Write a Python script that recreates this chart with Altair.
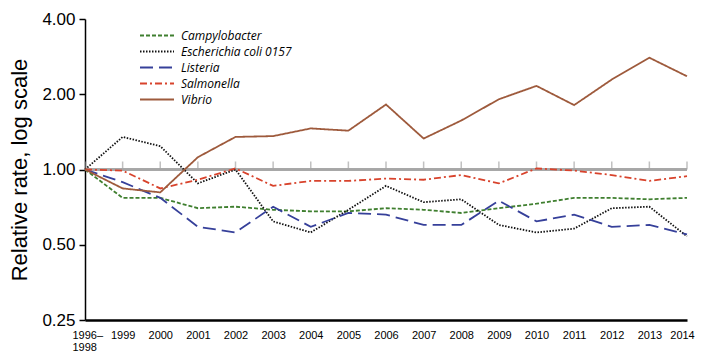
import altair as alt
import pandas as pd

periods = ["1996–1998", "1999", "2000", "2001", "2002", "2003", "2004", "2005",
           "2006", "2007", "2008", "2009", "2010", "2011", "2012", "2013", "2014"]

campylobacter = [1.00, 0.77, 0.77, 0.70, 0.71, 0.69, 0.68, 0.68, 0.70, 0.69,
                 0.67, 0.70, 0.73, 0.77, 0.77, 0.76, 0.77]
ecoli = [1.00, 1.35, 1.24, 0.88, 1.00, 0.62, 0.56, 0.69, 0.86, 0.74,
         0.76, 0.60, 0.56, 0.58, 0.70, 0.71, 0.54]
listeria = [1.00, 0.89, 0.77, 0.59, 0.56, 0.71, 0.59, 0.67, 0.66, 0.60,
            0.60, 0.75, 0.62, 0.66, 0.59, 0.60, 0.55]
salmonella = [1.00, 0.99, 0.84, 0.91, 1.01, 0.86, 0.90, 0.90, 0.92, 0.91,
              0.95, 0.88, 1.01, 0.99, 0.95, 0.90, 0.94]
vibrio = [1.00, 0.84, 0.81, 1.12, 1.35, 1.36, 1.46, 1.43, 1.82, 1.33,
          1.57, 1.91, 2.16, 1.81, 2.29, 2.80, 2.36]

series_names = ["Campylobacter", "Escherichia coli 0157", "Listeria", "Salmonella", "Vibrio"]
series_values = [campylobacter, ecoli, listeria, salmonella, vibrio]
colors = ["#3f7f2f", "#111111", "#36409a", "#d8432c", "#9e5a3c"]
dashes = [[4, 2], [1.5, 1.5], [13, 6], [7, 3, 2, 3], [1, 0]]
y_ticks = [0.25, 0.5, 1.0, 2.0, 4.0]

rows = []
for name, vals in zip(series_names, series_values):
    for p, v in zip(periods, vals):
        rows.append({"period": p, "pathogen": name, "rate": v})
df = pd.DataFrame(rows)
ref_df = pd.DataFrame({"period": periods, "rate": [1.0] * len(periods)})

first_label = "datum.value == '1996–1998'"
last_label = "datum.value == '2014'"

x_enc = alt.X("period:N", sort=periods,
              scale=alt.Scale(type="point", padding=0),
              axis=alt.Axis(title=None, ticks=False, labelPadding=9,
                            labelAngle=0, labelFont="Liberation Sans",
                            labelFontSize=11, labelColor="#000000",
                            labelLineHeight=12,
                            labelAlign=alt.condition(first_label, alt.value("left"), alt.value("center")),
                            labelOffset={"condition": [{"test": first_label, "value": -13},
                                                       {"test": last_label, "value": -5}],
                                         "value": 0},
                            labelExpr="datum.label == '1996–1998' ? ['1996–', '1998'] : datum.label",
                            domainColor="#000000", domainWidth=2.5,
                            grid=False))
y_scale = alt.Scale(type="log", base=2, domain=[0.25, 4])
y_axis = alt.Axis(title="Relative rate, log scale", values=y_ticks, format=".2f",
                  titleFont="Liberation Sans", titleFontSize=22,
                  titleFontWeight="normal", titleColor="#000000", titlePadding=10,
                  labelFont="Liberation Sans", labelFontSize=17, labelColor="#000000",
                  labelPadding=4, tickSize=6, tickColor="#000000", tickWidth=1.5,
                  domainColor="#000000", domainWidth=1.5, grid=False)

legend_cfg = dict(title=None, orient="none", legendX=62.5, legendY=7,
                  labelFont="Open Sans", labelFontStyle="italic",
                  labelFontSize=12, labelColor="#000000",
                  symbolType="M-2,0H2", symbolSize=289,
                  symbolStrokeWidth=2, labelOffset=14.5,
                  rowPadding=-0.5)

ref_rule = alt.Chart(ref_df).mark_rule(color="#a6a6a6", strokeWidth=1.5).encode(
    y=alt.Y("rate:Q", scale=y_scale, axis=y_axis)
)
ref_ticks = alt.Chart(ref_df).mark_tick(color="#a6a6a6", thickness=1.5, size=8,
                                         orient="vertical", yOffset=-4).encode(
    x=x_enc,
    y=alt.Y("rate:Q", scale=y_scale)
)

lines = alt.Chart(df).mark_line(strokeWidth=1.8).encode(
    x=x_enc,
    y=alt.Y("rate:Q", scale=y_scale),
    color=alt.Color("pathogen:N", sort=series_names,
                    scale=alt.Scale(domain=series_names, range=colors),
                    legend=alt.Legend(**legend_cfg)),
    strokeDash=alt.StrokeDash("pathogen:N", sort=series_names,
                              scale=alt.Scale(domain=series_names, range=dashes),
                              legend=alt.Legend(**legend_cfg)),
)

chart = alt.layer(ref_rule, ref_ticks, lines).properties(
    width=602, height=301,
    padding={"top": 2, "left": 0, "right": 0, "bottom": 0},
    background="#ffffff"
).configure_view(stroke=None)

chart.save("out.html", embed_options={"renderer": "svg", "actions": False})
